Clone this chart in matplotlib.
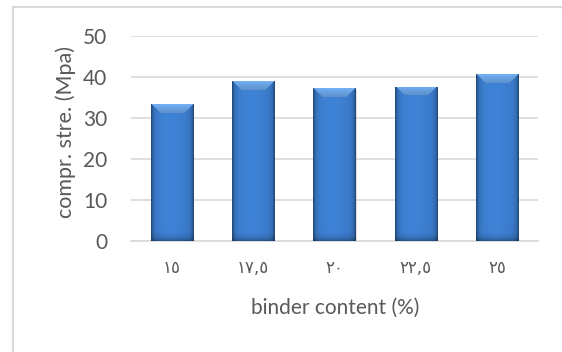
import matplotlib
matplotlib.use("Agg")
import matplotlib.pyplot as plt
import numpy as np
from matplotlib.lines import Line2D

categories = ['١٥', '١٧,٥', '٢٠', '٢٢,٥', '٢٥']
strength = [33.3, 39.0, 37.2, 37.6, 40.7]
yticks = [0, 10, 20, 30, 40, 50]

grey = '#595959'
gridc = '#d9d9d9'

fig = plt.figure(figsize=(5.62, 3.52), dpi=100)
ax = fig.add_axes([131 / 562, 1 - 241 / 352, 407 / 562, 205 / 352])

x = np.arange(len(categories))
bars = ax.bar(x, strength, width=0.52, color='#3b7dd0', zorder=2)


def bar_shade(w_px, h_px, bevel_px=9):
    # excel style bevel, built per pixel
    u = (np.arange(w_px) + 0.5) / w_px
    d = np.arange(h_px)[::-1] + 0.5  # distance from top, row 0 = bottom
    U, D = np.meshgrid(u, d)
    base = np.array([0.23, 0.48, 0.79])
    f = 1.0 - 0.5 * np.exp(-U * w_px / 2.0) - 0.5 * np.exp(-(1 - U) * w_px / 2.0)
    f = f * (1.0 + 0.07 * np.exp(-((U - 0.45) / 0.3) ** 2))
    bottom = np.exp(-(h_px - D) / 3.0)
    f = f * (1 - 0.4 * bottom)
    img = base[None, None, :] * f[:, :, None]
    s = 0.22
    inside = (D < bevel_px) & (U > s * D / bevel_px) & (U < 1 - s * D / bevel_px)
    light = np.array([0.45, 0.69, 0.96])
    img[inside] = light * (1 - 0.18 * (D[inside] / bevel_px))[:, None]
    return np.clip(img, 0, 1)


px_per_x = 407 / 5
px_per_y = 205 / 50
for b in bars:
    x0, w, h = b.get_x(), b.get_width(), b.get_height()
    wp = int(round(w * px_per_x))
    hp = int(round(h * px_per_y))
    im = ax.imshow(bar_shade(wp, hp), extent=(x0, x0 + w, 0, h), origin='lower',
                   aspect='auto', interpolation='bilinear', zorder=3)
    im.set_clip_path(b)
    # soft shadow on the right
    ax.bar(x0 + w / 2 + 0.012, h, width=w, bottom=-0.25, color='#bfbfbf',
           alpha=0.5, zorder=1.5)

ax.set_xlim(-0.5, len(categories) - 0.5)
ax.set_ylim(0, 50)
ax.set_yticks(yticks)
ax.set_xticks(x)
ax.set_xticklabels(categories, family=['DejaVu Sans'], fontsize=12, color=grey)
ax.tick_params(axis='both', length=0)
ax.tick_params(axis='y', pad=17, labelsize=15, labelcolor=grey)
ax.tick_params(axis='x', pad=13)
for lab in ax.get_yticklabels():
    lab.set_family('Lato')
ax.yaxis.grid(True, color=gridc, lw=1.2, zorder=0)
ax.set_axisbelow(True)
for sp in ['top', 'right', 'left']:
    ax.spines[sp].set_visible(False)
ax.spines['bottom'].set_color(gridc)
ax.spines['bottom'].set_linewidth(1.2)

fig.text(335 / 562, 1 - 308 / 352, 'binder content (%)', ha='center', va='center',
         fontsize=15, color=grey, family='Lato')
fig.text(66 / 562, 1 - 132 / 352, 'compr. stre. (Mpa)', ha='center', va='center',
         rotation=90, fontsize=15.5, color=grey, family='Lato')

# chart frame
fig.add_artist(Line2D([12.5 / 562, 12.5 / 562], [0, 1 - 7 / 352], color=gridc, lw=1.5))
fig.add_artist(Line2D([12.5 / 562, 1], [1 - 7 / 352, 1 - 7 / 352], color=gridc, lw=1.5))

fig.savefig('out.png', dpi=100)
